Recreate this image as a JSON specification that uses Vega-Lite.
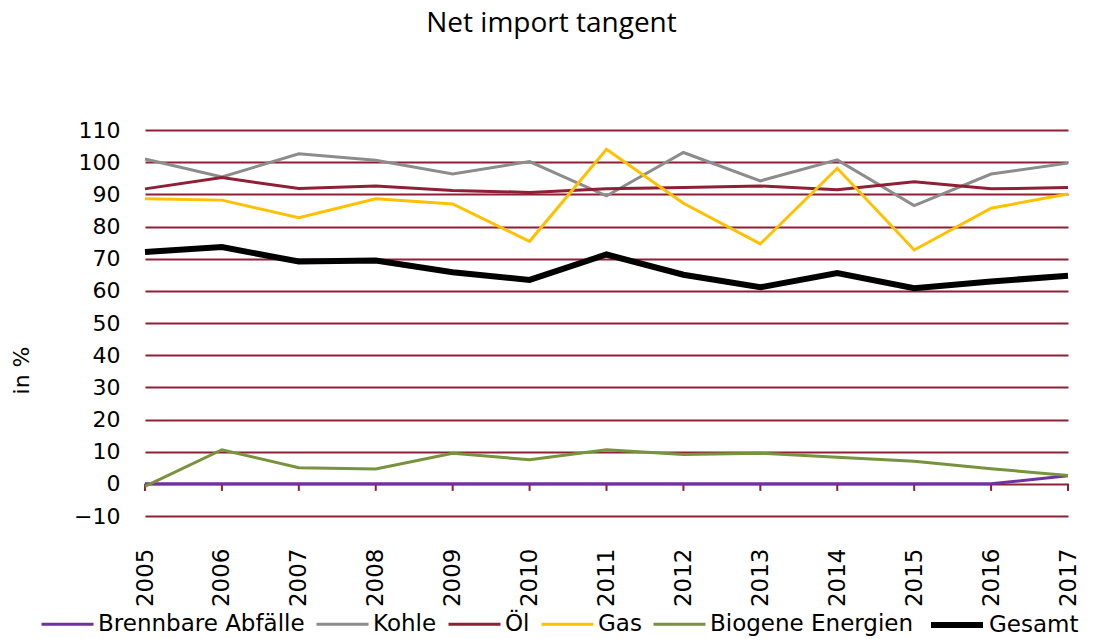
{
  "$schema": "https://vega.github.io/schema/vega-lite/v6.json",
  "width": 923,
  "height": 386,
  "autosize": {"type": "none"},
  "padding": {"left": 145, "top": 130, "right": 27, "bottom": 123},
  "background": "white",
  "title": {
    "text": "Net import tangent",
    "font": "Open Sans",
    "fontSize": 28,
    "fontWeight": "normal",
    "color": "black",
    "anchor": "middle",
    "dx": -55,
    "offset": 81
  },
  "data": {
    "values": [
      {"year": 2005, "series": "Brennbare Abfälle", "value": 0},
      {"year": 2006, "series": "Brennbare Abfälle", "value": 0},
      {"year": 2007, "series": "Brennbare Abfälle", "value": 0},
      {"year": 2008, "series": "Brennbare Abfälle", "value": 0},
      {"year": 2009, "series": "Brennbare Abfälle", "value": 0},
      {"year": 2010, "series": "Brennbare Abfälle", "value": 0},
      {"year": 2011, "series": "Brennbare Abfälle", "value": 0},
      {"year": 2012, "series": "Brennbare Abfälle", "value": 0},
      {"year": 2013, "series": "Brennbare Abfälle", "value": 0},
      {"year": 2014, "series": "Brennbare Abfälle", "value": 0},
      {"year": 2015, "series": "Brennbare Abfälle", "value": 0},
      {"year": 2016, "series": "Brennbare Abfälle", "value": 0},
      {"year": 2017, "series": "Brennbare Abfälle", "value": 2.5},
      {"year": 2005, "series": "Kohle", "value": 101.0},
      {"year": 2006, "series": "Kohle", "value": 95.4},
      {"year": 2007, "series": "Kohle", "value": 102.6},
      {"year": 2008, "series": "Kohle", "value": 100.6},
      {"year": 2009, "series": "Kohle", "value": 96.3},
      {"year": 2010, "series": "Kohle", "value": 100.2},
      {"year": 2011, "series": "Kohle", "value": 89.5},
      {"year": 2012, "series": "Kohle", "value": 103.0},
      {"year": 2013, "series": "Kohle", "value": 94.2},
      {"year": 2014, "series": "Kohle", "value": 100.7},
      {"year": 2015, "series": "Kohle", "value": 86.5},
      {"year": 2016, "series": "Kohle", "value": 96.3},
      {"year": 2017, "series": "Kohle", "value": 99.7},
      {"year": 2005, "series": "Öl", "value": 91.7},
      {"year": 2006, "series": "Öl", "value": 95.2},
      {"year": 2007, "series": "Öl", "value": 91.8},
      {"year": 2008, "series": "Öl", "value": 92.6},
      {"year": 2009, "series": "Öl", "value": 91.2},
      {"year": 2010, "series": "Öl", "value": 90.6},
      {"year": 2011, "series": "Öl", "value": 91.7},
      {"year": 2012, "series": "Öl", "value": 92.1},
      {"year": 2013, "series": "Öl", "value": 92.6},
      {"year": 2014, "series": "Öl", "value": 91.4},
      {"year": 2015, "series": "Öl", "value": 93.9},
      {"year": 2016, "series": "Öl", "value": 91.7},
      {"year": 2017, "series": "Öl", "value": 92.1},
      {"year": 2005, "series": "Gas", "value": 88.6},
      {"year": 2006, "series": "Gas", "value": 88.2},
      {"year": 2007, "series": "Gas", "value": 82.7},
      {"year": 2008, "series": "Gas", "value": 88.6},
      {"year": 2009, "series": "Gas", "value": 87.0},
      {"year": 2010, "series": "Gas", "value": 75.4},
      {"year": 2011, "series": "Gas", "value": 104.0},
      {"year": 2012, "series": "Gas", "value": 87.2},
      {"year": 2013, "series": "Gas", "value": 74.6},
      {"year": 2014, "series": "Gas", "value": 98.1},
      {"year": 2015, "series": "Gas", "value": 72.7},
      {"year": 2016, "series": "Gas", "value": 85.7},
      {"year": 2017, "series": "Gas", "value": 90.1},
      {"year": 2005, "series": "Biogene Energien", "value": -0.8},
      {"year": 2006, "series": "Biogene Energien", "value": 10.6},
      {"year": 2007, "series": "Biogene Energien", "value": 5.0},
      {"year": 2008, "series": "Biogene Energien", "value": 4.6},
      {"year": 2009, "series": "Biogene Energien", "value": 9.5},
      {"year": 2010, "series": "Biogene Energien", "value": 7.5},
      {"year": 2011, "series": "Biogene Energien", "value": 10.6},
      {"year": 2012, "series": "Biogene Energien", "value": 9.1},
      {"year": 2013, "series": "Biogene Energien", "value": 9.5},
      {"year": 2014, "series": "Biogene Energien", "value": 8.3},
      {"year": 2015, "series": "Biogene Energien", "value": 7.0},
      {"year": 2016, "series": "Biogene Energien", "value": 4.7},
      {"year": 2017, "series": "Biogene Energien", "value": 2.6},
      {"year": 2005, "series": "Gesamt", "value": 72.1},
      {"year": 2006, "series": "Gesamt", "value": 73.6},
      {"year": 2007, "series": "Gesamt", "value": 69.1},
      {"year": 2008, "series": "Gesamt", "value": 69.4},
      {"year": 2009, "series": "Gesamt", "value": 65.8},
      {"year": 2010, "series": "Gesamt", "value": 63.4},
      {"year": 2011, "series": "Gesamt", "value": 71.3},
      {"year": 2012, "series": "Gesamt", "value": 65.0},
      {"year": 2013, "series": "Gesamt", "value": 61.1},
      {"year": 2014, "series": "Gesamt", "value": 65.5},
      {"year": 2015, "series": "Gesamt", "value": 60.8},
      {"year": 2016, "series": "Gesamt", "value": 62.9},
      {"year": 2017, "series": "Gesamt", "value": 64.7}
    ]
  },
  "layer": [
    {
      "transform": [{"filter": "datum.series === 'Gesamt'"}],
      "mark": {"type": "rule", "color": "#8E1F35", "strokeWidth": 2},
      "encoding": {
        "x": {"field": "year", "type": "ordinal"},
        "y": {"datum": 0},
        "y2": {"datum": -2.2}
      }
    },
    {
      "mark": {"type": "line", "strokeJoin": "miter", "strokeCap": "butt"},
      "encoding": {
        "x": {
          "field": "year",
          "type": "ordinal",
          "scale": {"type": "point", "padding": 0},
          "axis": {
            "title": null,
            "domain": false,
            "ticks": false,
            "grid": false,
            "labelAngle": -90,
            "labelAlign": "right",
            "labelBaseline": "middle",
            "labelPadding": 32,
            "labelFont": "DejaVu Sans",
            "labelFontSize": 23,
            "labelColor": "black",
            "labelOverlap": false
          }
        },
        "y": {
          "field": "value",
          "type": "quantitative",
          "scale": {"domain": [-10, 110], "nice": false, "zero": false},
          "axis": {
            "values": [-10, 0, 10, 20, 30, 40, 50, 60, 70, 80, 90, 100, 110],
            "tickCount": 13,
            "title": "in %",
            "titleFont": "DejaVu Sans",
            "titleFontSize": 22,
            "titleFontWeight": "normal",
            "titleColor": "black",
            "titleAngle": -90,
            "titleX": -124,
            "titleY": 240,
            "titleAlign": "center",
            "titleBaseline": "middle",
            "domain": false,
            "ticks": false,
            "grid": true,
            "gridColor": "#8E1F35",
            "gridWidth": 2,
            "gridOpacity": 1,
            "labelPadding": 25,
            "labelFont": "DejaVu Sans",
            "labelFontSize": 22,
            "labelColor": "black",
            "labelOverlap": false,
            "labelFlush": false
          }
        },
        "color": {
          "field": "series",
          "type": "nominal",
          "scale": {
            "domain": ["Brennbare Abfälle", "Kohle", "Öl", "Gas", "Biogene Energien", "Gesamt"],
            "range": ["#7030A0", "#8C8C8C", "#8E1F35", "#FFC000", "#77933C", "#000000"]
          },
          "legend": {
            "title": null,
            "orient": "none",
            "legendX": -105,
            "legendY": 466,
            "direction": "horizontal",
            "symbolType": "stroke",
            "symbolSize": 2704,
            "labelFont": "DejaVu Sans",
            "labelFontSize": 23,
            "labelColor": "black",
            "labelOffset": 3,
            "labelLimit": 0,
            "columnPadding": 5
          }
        },
        "strokeWidth": {
          "field": "series",
          "type": "ordinal",
          "scale": {
            "type": "ordinal",
            "domain": ["Brennbare Abfälle", "Kohle", "Öl", "Gas", "Biogene Energien", "Gesamt"],
            "range": [3, 3, 3, 3, 3, 6]
          },
          "legend": {
            "title": null,
            "orient": "none",
            "legendX": -105,
            "legendY": 466,
            "direction": "horizontal",
            "symbolType": "stroke",
            "symbolSize": 2704,
            "labelFont": "DejaVu Sans",
            "labelFontSize": 23,
            "labelColor": "black",
            "labelOffset": 3,
            "labelLimit": 0,
            "columnPadding": 5
          }
        }
      }
    }
  ],
  "config": {
    "view": {"stroke": null}
  }
}
